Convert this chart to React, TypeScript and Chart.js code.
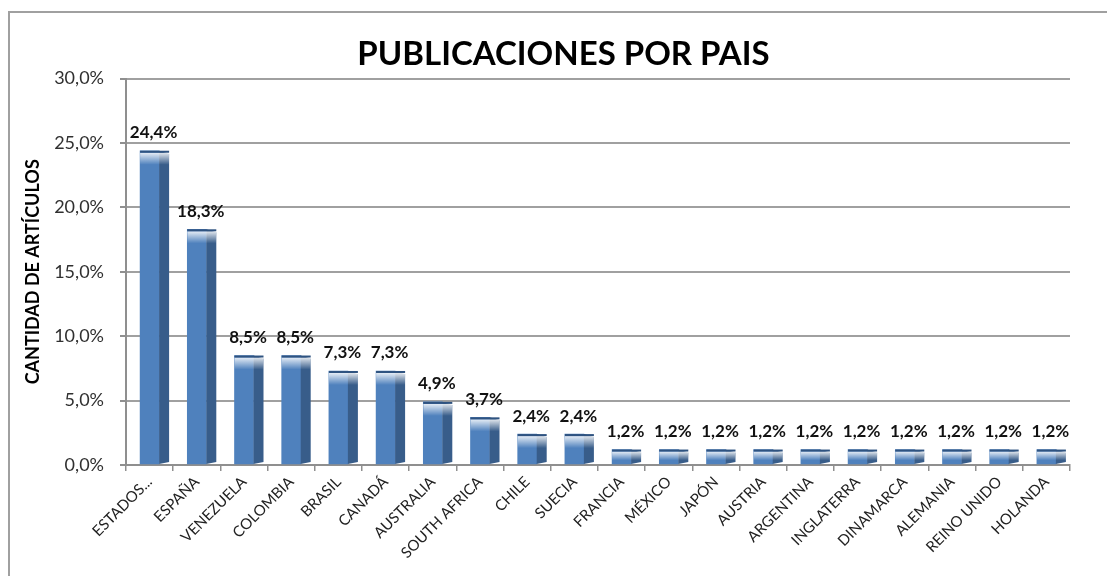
import React, { useEffect, useRef } from "react";
import { Chart, registerables } from "chart.js";

Chart.register(...registerables);

const categories = [
  "ESTADOS...", "ESPAÑA", "VENEZUELA", "COLOMBIA", "BRASIL", "CANADÁ", "AUSTRALIA",
  "SOUTH AFRICA", "CHILE", "SUECIA", "FRANCIA", "MÉXICO", "JAPÓN", "AUSTRIA",
  "ARGENTINA", "INGLATERRA", "DINAMARCA", "ALEMANIA", "REINO UNIDO", "HOLANDA",
];
const percentages = [
  24.4, 18.3, 8.5, 8.5, 7.3, 7.3, 4.9, 3.7, 2.4, 2.4,
  1.2, 1.2, 1.2, 1.2, 1.2, 1.2, 1.2, 1.2, 1.2, 1.2,
];
const chartTitle = "PUBLICACIONES POR PAIS";
const yAxisTitle = "CANTIDAD DE ARTÍCULOS";

const fmt = (v: number) => v.toFixed(1).replace(".", ",") + "%";

const bar3dPlugin = {
  id: "bar3d",
  afterDatasetsDraw(chart: any) {
    const ctx = chart.ctx;
    const meta = chart.getDatasetMeta(0);
    ctx.save();
    meta.data.forEach((el: any, i: number) => {
      const { x, y, base, width } = el.getProps(["x", "y", "base", "width"], true);
      const right = x + width / 2;
      const left = x - width / 2;
      const depth = 10;
      // side face
      ctx.fillStyle = "#385D8A";
      ctx.beginPath();
      ctx.moveTo(right, y);
      ctx.lineTo(right + depth, y + 3);
      ctx.lineTo(right + depth, base - 2);
      ctx.lineTo(right, base);
      ctx.closePath();
      ctx.fill();
      // top soft highlight
      const h = Math.min(12, (base - y) * 0.6);
      const g = ctx.createLinearGradient(0, y + 2, 0, y + 2 + h);
      g.addColorStop(0, "rgba(255,255,255,0.85)");
      g.addColorStop(1, "rgba(255,255,255,0)");
      ctx.fillStyle = g;
      ctx.fillRect(left, y + 2, width + depth, h);
      ctx.fillStyle = "#2F5380";
      ctx.fillRect(left, y, width + depth, 2);
      // value label
      ctx.fillStyle = "#111";
      ctx.font = "bold 17px Lato";
      ctx.textAlign = "center";
      ctx.textBaseline = "middle";
      ctx.fillText(fmt(percentages[i]), x + 4, y - 18);
    });
    ctx.restore();
  },
};

export default function App() {
  const ref = useRef<HTMLCanvasElement | null>(null);
  useEffect(() => {
    if (!ref.current) return;
    const chart = new Chart(ref.current, {
      type: "bar",
      data: {
        labels: categories,
        datasets: [
          {
            data: percentages,
            backgroundColor: "#4F81BD",
            barThickness: 19,
            borderWidth: 0,
          },
        ],
      },
      options: {
        responsive: false,
        animation: false,
        devicePixelRatio: 1,
        layout: { padding: { left: 20, right: 0, top: 35, bottom: 0 } },
        plugins: {
          legend: { display: false },
          tooltip: { enabled: false },
          title: {
            display: true,
            text: chartTitle,
            color: "#000",
            font: { family: "Lato", size: 33, weight: "bold" },
            padding: { top: 0, bottom: 4 },
          },
        },
        scales: {
          x: {
            grid: {
              offset: true,
              drawOnChartArea: false,
              drawTicks: true,
              tickLength: 6,
              color: "#8f8f8f",
              lineWidth: 1.5,
            },
            border: { color: "#8f8f8f", width: 2 },
            ticks: {
              minRotation: 45,
              maxRotation: 45,
              autoSkip: false,
              color: "#222",
              font: { family: "Lato", size: 15 },
              padding: 2,
            },
            afterFit: (s: any) => {
              s.height = 111;
            },
          },
          y: {
            min: 0,
            max: 30,
            ticks: {
              stepSize: 5,
              callback: (v: any) => fmt(Number(v)),
              color: "#303030",
              font: { family: "Lato", size: 18 },
              padding: 16,
            },
            grid: { color: "#a0a0a0", lineWidth: 2, tickLength: 6, tickColor: "#8f8f8f" },
            border: { color: "#8f8f8f", width: 2 },
            title: {
              display: true,
              text: yAxisTitle,
              color: "#000",
              font: { family: "Lato", size: 18, weight: "bold" },
              padding: { top: 2, bottom: 0 },
            },
            afterFit: (s: any) => {
              s.width = 106;
            },
          },
          yR: {
            position: "right",
            display: true,
            grid: { display: false },
            ticks: { display: false },
            border: { display: false },
            afterFit: (s: any) => {
              s.width = 37;
            },
          },
        },
      } as any,
      plugins: [bar3dPlugin],
    });
    return () => chart.destroy();
  }, []);

  return (
    <div
      style={{
        position: "fixed",
        left: 0,
        top: 0,
        width: 1107,
        height: 576,
        overflow: "hidden",
        background: "#fff",
      }}
    >
      <div
        style={{
          position: "absolute",
          left: 8,
          top: 11,
          width: 1200,
          height: 700,
          border: "2px solid #a0a0a0",
        }}
      />
      <canvas
        ref={ref}
        width={1107}
        height={576}
        style={{ position: "absolute", left: 0, top: 0 }}
      />
    </div>
  );
}
